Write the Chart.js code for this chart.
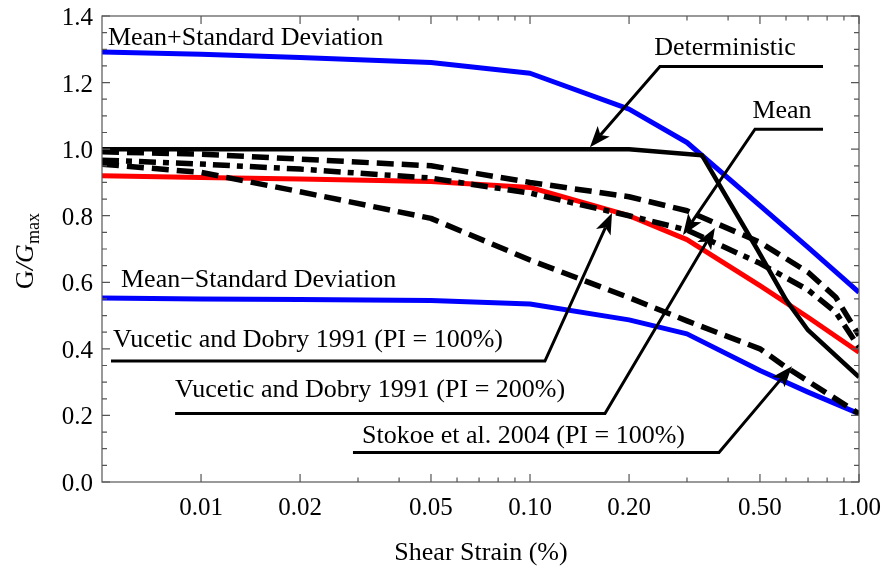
<!DOCTYPE html>
<html>
<head>
<meta charset="utf-8">
<script src="https://cdn.jsdelivr.net/npm/chart.js@4.4.1/dist/chart.umd.min.js"></script>
<style>
  html, body { margin: 0; padding: 0; background: #fff; }
</style>
</head>
<body>
<canvas id="chart" width="886" height="571"></canvas>
<script>
// Curves (shear strain in %, G/Gmax)
const strainStd = [0.005, 0.01, 0.02, 0.05, 0.1, 0.2, 0.3, 0.5, 0.7, 1.0];
const meanPlusSd = [1.292, 1.285, 1.275, 1.26, 1.228, 1.12, 1.02, 0.83, 0.705, 0.57];
const meanMinusSd = [0.553, 0.55, 0.548, 0.545, 0.535, 0.487, 0.445, 0.335, 0.27, 0.205];
const meanCurve = [0.92, 0.915, 0.91, 0.903, 0.885, 0.80, 0.728, 0.59, 0.495, 0.39];

const strainDet = [0.005, 0.2, 0.333, 0.49, 0.6, 0.7, 1.0];
const deterministic = [1.0, 1.0, 0.982, 0.70, 0.547, 0.456, 0.315];

const strainVd = [0.005, 0.01, 0.02, 0.05, 0.1, 0.2, 0.3, 0.5, 0.7, 0.85, 1.0];
const vd200 = [0.992, 0.985, 0.97, 0.95, 0.90, 0.857, 0.815, 0.72, 0.63, 0.555, 0.44];
const vd100 = [0.967, 0.955, 0.94, 0.913, 0.868, 0.80, 0.757, 0.657, 0.577, 0.51, 0.405];

const strainStokoe = [0.005, 0.01, 0.02, 0.05, 0.1, 0.2, 0.3, 0.5, 0.6, 1.0];
const stokoe100 = [0.955, 0.93, 0.872, 0.792, 0.667, 0.554, 0.484, 0.40, 0.345, 0.205];

// Axis ticks
const xMajor = [0.01, 0.02, 0.05, 0.1, 0.2, 0.5, 1.0];
const xTickLabels = ['0.01', '0.02', '0.05', '0.10', '0.20', '0.50', '1.00'];
const xMinor = [0.03, 0.04, 0.06, 0.07, 0.08, 0.09, 0.3, 0.4, 0.6, 0.7, 0.8, 0.9];
const yMajor = [0, 0.2, 0.4, 0.6, 0.8, 1.0, 1.2, 1.4];
const yTickLabels = ['0.0', '0.2', '0.4', '0.6', '0.8', '1.0', '1.2', '1.4'];
const yMinor = [0.05, 0.1, 0.15, 0.25, 0.3, 0.35, 0.45, 0.5, 0.55, 0.65, 0.7, 0.75,
                0.85, 0.9, 0.95, 1.05, 1.1, 1.15, 1.25, 1.3, 1.35];

// Labels and leader arrows, in data units
const labelTexts = [
    { text: 'Mean+Standard Deviation', x: 0.00521, y: 1.312, align: 'left' },
    { text: 'Mean\u2212Standard Deviation', x: 0.00571, y: 0.586, align: 'left' },
    { text: 'Deterministic', x: 0.3914, y: 1.284, align: 'center' },
    { text: 'Mean', x: 0.5833, y: 1.093, align: 'center' },
    { text: 'Vucetic and Dobry 1991 (PI = 100%)', x: 0.0054, y: 0.405, align: 'left' },
    { text: 'Vucetic and Dobry 1991 (PI = 200%)', x: 0.00834, y: 0.255, align: 'left' },
    { text: 'Stokoe et al. 2004 (PI = 100%)', x: 0.03085, y: 0.117, align: 'left' }
];
const leaders = [
    [[0.7773, 1.248], [0.2483, 1.248], [0.1521, 1.006]],
    [[0.7773, 1.060], [0.4829, 1.060], [0.2917, 0.742]],
    [[0.005325, 0.3634], [0.111, 0.3634], [0.1775, 0.808]],
    [[0.00834, 0.2057], [0.169, 0.2057], [0.3648, 0.763]],
    [[0.02896, 0.0886], [0.3753, 0.0886], [0.6255, 0.348]]
];

const FONT = '"Liberation Serif", "Times New Roman", serif';

function pts(xs, ys) {
    return xs.map((x, i) => ({ x: x, y: ys[i] }));
}

function curve(label, xs, ys, color, width, dash) {
    return {
        label: label,
        data: pts(xs, ys),
        borderColor: color,
        borderWidth: width,
        borderDash: dash || [],
        borderCapStyle: 'butt',
        borderJoinStyle: 'round',
        pointRadius: 0,
        fill: false,
        tension: 0
    };
}

// first dataset is drawn on top
const datasets = [
    curve('Stokoe et al. 2004 (PI = 100%)', strainStokoe, stokoe100, '#000', 5.5, [17, 8]),
    curve('Vucetic and Dobry 1991 (PI = 200%)', strainVd, vd200, '#000', 5.5, [17, 8]),
    curve('Vucetic and Dobry 1991 (PI = 100%)', strainVd, vd100, '#000', 5.5, [17, 7, 6, 7]),
    curve('Deterministic', strainDet, deterministic, '#000', 4.5),
    curve('Mean', strainStd, meanCurve, '#ff0000', 5),
    curve('Mean+Standard Deviation', strainStd, meanPlusSd, '#0000ff', 5),
    curve('Mean-Standard Deviation', strainStd, meanMinusSd, '#0000ff', 5)
];

const framePlugin = {
    id: 'frame',
    afterDraw(chart) {
        const ctx = chart.ctx;
        const a = chart.chartArea;
        const xs = chart.scales.x, ys = chart.scales.y;
        ctx.save();
        ctx.strokeStyle = '#555';
        ctx.lineWidth = 1.2;
        ctx.strokeRect(a.left, a.top, a.right - a.left, a.bottom - a.top);

        ctx.beginPath();
        xMajor.forEach(v => {
            const p = xs.getPixelForValue(v);
            ctx.moveTo(p, a.bottom); ctx.lineTo(p, a.bottom - 8);
            ctx.moveTo(p, a.top); ctx.lineTo(p, a.top + 8);
        });
        xMinor.forEach(v => {
            const p = xs.getPixelForValue(v);
            ctx.moveTo(p, a.bottom); ctx.lineTo(p, a.bottom - 4.5);
            ctx.moveTo(p, a.top); ctx.lineTo(p, a.top + 4.5);
        });
        yMajor.forEach(v => {
            const p = ys.getPixelForValue(v);
            ctx.moveTo(a.left, p); ctx.lineTo(a.left + 8, p);
            ctx.moveTo(a.right, p); ctx.lineTo(a.right - 8, p);
        });
        yMinor.forEach(v => {
            const p = ys.getPixelForValue(v);
            ctx.moveTo(a.left, p); ctx.lineTo(a.left + 5, p);
            ctx.moveTo(a.right, p); ctx.lineTo(a.right - 5, p);
        });
        ctx.stroke();

        ctx.fillStyle = '#000';
        ctx.font = '25px ' + FONT;
        ctx.textAlign = 'center';
        ctx.textBaseline = 'alphabetic';
        xMajor.forEach((v, i) => {
            ctx.fillText(xTickLabels[i], xs.getPixelForValue(v), a.bottom + 33);
        });
        ctx.textAlign = 'right';
        yMajor.forEach((v, i) => {
            ctx.fillText(yTickLabels[i], a.left - 9, ys.getPixelForValue(v) + 9);
        });

        // axis titles
        ctx.font = '26px ' + FONT;
        ctx.textAlign = 'center';
        ctx.fillText('Shear Strain (%)', (a.left + a.right) / 2 + 0.5, a.bottom + 78);

        ctx.save();
        ctx.translate(33, (a.top + a.bottom) / 2 + 2);
        ctx.rotate(-Math.PI / 2);
        const parts = [
            { t: 'G', f: '26px ' + FONT, dy: 0 },
            { t: '/', f: 'italic 26px ' + FONT, dy: 0 },
            { t: 'G', f: 'italic 26px ' + FONT, dy: 0 },
            { t: 'max', f: '18px ' + FONT, dy: 6 }
        ];
        let total = 0;
        parts.forEach(p => { ctx.font = p.f; total += ctx.measureText(p.t).width; });
        let cx = -total / 2;
        ctx.textAlign = 'left';
        parts.forEach(p => {
            ctx.font = p.f;
            ctx.fillText(p.t, cx, p.dy);
            cx += ctx.measureText(p.t).width;
        });
        ctx.restore();
        ctx.restore();
    }
};

const notesPlugin = {
    id: 'notes',
    afterDatasetsDraw(chart) {
        const ctx = chart.ctx;
        const xs = chart.scales.x, ys = chart.scales.y;
        const px = p => [xs.getPixelForValue(p[0]), ys.getPixelForValue(p[1])];
        ctx.save();
        ctx.fillStyle = '#000';
        ctx.strokeStyle = '#000';
        ctx.font = '26px ' + FONT;
        ctx.textBaseline = 'alphabetic';
        labelTexts.forEach(l => {
            ctx.textAlign = l.align;
            ctx.fillText(l.text, xs.getPixelForValue(l.x), ys.getPixelForValue(l.y));
        });

        ctx.lineWidth = 3;
        ctx.lineJoin = 'miter';
        leaders.forEach(path => {
            const p = path.map(px);
            const tip = p[p.length - 1], prev = p[p.length - 2];
            const dx = tip[0] - prev[0], dy = tip[1] - prev[1];
            const len = Math.hypot(dx, dy);
            const ux = dx / len, uy = dy / len, nx = -uy, ny = ux;
            const L = 21, W = 8, N = 5;
            ctx.beginPath();
            ctx.moveTo(p[0][0], p[0][1]);
            for (let i = 1; i < p.length - 1; i++) ctx.lineTo(p[i][0], p[i][1]);
            ctx.lineTo(tip[0] - (L - N) * ux, tip[1] - (L - N) * uy);
            ctx.stroke();
            ctx.beginPath();
            ctx.moveTo(tip[0], tip[1]);
            ctx.lineTo(tip[0] - L * ux + W * nx, tip[1] - L * uy + W * ny);
            ctx.lineTo(tip[0] - (L - N) * ux, tip[1] - (L - N) * uy);
            ctx.lineTo(tip[0] - L * ux - W * nx, tip[1] - L * uy - W * ny);
            ctx.closePath();
            ctx.fill();
        });
        ctx.restore();
    }
};

new Chart(document.getElementById('chart').getContext('2d'), {
    type: 'line',
    data: { datasets: datasets },
    options: {
        responsive: false,
        animation: false,
        layout: { padding: { left: 102, right: 27, top: 16, bottom: 89 } },
        scales: {
            x: { type: 'logarithmic', min: 0.005, max: 1, display: false },
            y: { type: 'linear', min: 0, max: 1.4, display: false }
        },
        plugins: {
            legend: { display: false },
            tooltip: { enabled: false }
        }
    },
    plugins: [notesPlugin, framePlugin]
});
</script>
</body>
</html>
